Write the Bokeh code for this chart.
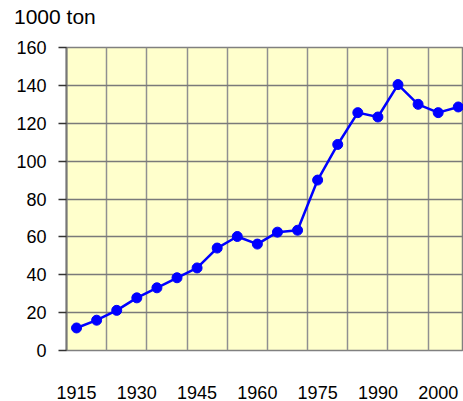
from bokeh.plotting import figure
from bokeh.models import Range1d, FixedTicker, ColumnDataSource, Div
from bokeh.layouts import column
from bokeh.embed import file_html
from bokeh.resources import INLINE

years = [1915, 1920, 1925, 1930, 1935, 1940, 1945, 1950, 1955, 1960,
         1965, 1970, 1975, 1980, 1985, 1990, 1995, 2000, 2005, 2010]
values = [11.9, 16.0, 21.2, 27.8, 33.1, 38.4, 43.6, 54.1, 60.2, 56.2,
          62.5, 63.5, 90.0, 108.8, 125.6, 123.3, 140.4, 130.0, 125.6, 128.6]
tick_years = [1915, 1930, 1945, 1960, 1975, 1990, 2005]
tick_labels = ["1915", "1930", "1945", "1960", "1975", "1990", "2000"]
y_ticks = [0, 20, 40, 60, 80, 100, 120, 140, 160]
unit_label = "1000 ton"

FONT = "Liberation Sans"

head = Div(text=('<div style="font-family: \'Liberation Sans\', Arial, sans-serif; '
                 'font-size: 21px; line-height: 24px; color: black; '
                 'padding: 5px 0 0 14px; margin: 0; white-space: nowrap;">'
                 + unit_label + '</div>'),
           width=463, height=30, margin=0)

p = figure(width=463, height=371, output_backend="svg", toolbar_location=None,
           x_range=Range1d(1912.5, 2011.3), y_range=Range1d(0, 160),
           min_border_left=66, min_border_right=0, min_border_top=17,
           min_border_bottom=50, margin=0)
p.background_fill_color = "#FFFFCC"
p.border_fill_color = "white"
p.outline_line_color = "#808080"
p.outline_line_width = 1.5

src = ColumnDataSource(dict(x=years, y=values))
p.line("x", "y", source=src, line_color="#0000FF", line_width=2.5)
p.scatter("x", "y", source=src, size=10, fill_color="#0000FF", line_color="#0000FF")

# grids
p.xgrid.ticker = FixedTicker(ticks=[y - 2.5 for y in years[::2]])
p.xgrid.grid_line_color = "#909090"
p.xgrid.grid_line_width = 1.5
p.ygrid.ticker = FixedTicker(ticks=y_ticks)
p.ygrid.grid_line_color = "#7a7a7a"
p.ygrid.grid_line_width = 1.5

# x axis
xa = p.xaxis[0]
xa.ticker = FixedTicker(ticks=tick_years)
xa.major_label_overrides = {y: l for y, l in zip(tick_years, tick_labels)}
xa.axis_line_color = None
xa.major_tick_line_color = None
xa.minor_tick_line_color = None
xa.major_label_standoff = 29
xa.major_label_text_font = FONT
xa.major_label_text_font_size = "18px"
xa.major_label_text_color = "black"

# y axis
ya = p.yaxis[0]
ya.ticker = FixedTicker(ticks=y_ticks)
ya.axis_line_color = "#777777"
ya.axis_line_width = 2
ya.major_tick_line_color = "#333333"
ya.major_tick_line_width = 1.5
ya.major_tick_out = 8
ya.major_tick_in = 0
ya.minor_tick_line_color = None
ya.major_label_standoff = 12
ya.major_label_text_font = FONT
ya.major_label_text_font_size = "18px"
ya.major_label_text_color = "black"

layout = column(head, p, spacing=0)
open("out.html", "w").write(file_html(layout, INLINE))
